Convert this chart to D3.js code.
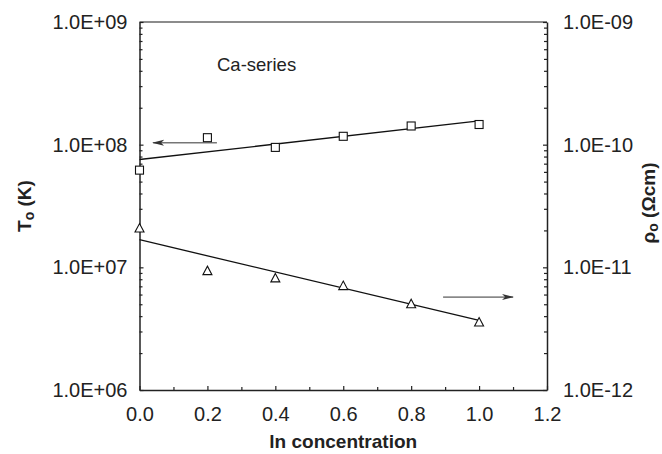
<!DOCTYPE html>
<html>
<head>
<meta charset="utf-8">
<script src="https://cdn.jsdelivr.net/npm/d3@7"></script>
<style>
  body { margin: 0; background: #fff; }
  text { font-family: "Liberation Sans", Arial, sans-serif; fill: #222; }
</style>
</head>
<body>
<svg width="662" height="454"></svg>
<script>
// data
var conc = [0.0, 0.2, 0.4, 0.6, 0.8, 1.0];
var T0 = [6.2e7, 1.14e8, 9.5e7, 1.17e8, 1.42e8, 1.46e8];
var rho0 = [2.09e-11, 9.4e-12, 8.2e-12, 7.1e-12, 5.05e-12, 3.58e-12];
var fitX = [0.0, 1.0];
var fitT = [7.57e7, 1.56e8];
var fitRho = [1.68e-11, 3.69e-12];
var xTicks = [0.0, 0.2, 0.4, 0.6, 0.8, 1.0, 1.2];
var leftTicks = [1e6, 1e7, 1e8, 1e9];
var rightTicks = [1e-12, 1e-11, 1e-10, 1e-9];

var svg = d3.select("svg");
var padL = 139.5, padR = 547, padT = 22, padB = 390;

var x = d3.scaleLinear().domain([0, 1.2]).range([padL, padR]);
var yL = d3.scaleLog().domain([1e6, 1e9]).range([padB, padT]);
var yR = d3.scaleLog().domain([1e-12, 1e-9]).range([padB, padT]);

function sci(v) {
  var e = Math.round(Math.log10(v));
  return "1.0E" + (e < 0 ? "-" : "+") + (Math.abs(e) < 10 ? "0" : "") + Math.abs(e);
}
function minors(lo, hi) {
  var out = [];
  for (var d = lo; d < hi * 0.99; d *= 10)
    for (var k = 2; k <= 9; k++) out.push(d * k);
  return out;
}

var defs = svg.append("defs");
defs.append("marker")
    .attr("id", "head")
    .attr("viewBox", "0 0 12 8")
    .attr("refX", 11).attr("refY", 4)
    .attr("markerWidth", 12).attr("markerHeight", 8)
    .attr("markerUnits", "userSpaceOnUse")
    .attr("orient", "auto")
  .append("path")
    .attr("d", "M0,1 L12,4 L0,7 L3,4 Z")
    .attr("fill", "#333");

// top frame line
svg.append("line")
    .attr("x1", padL).attr("x2", padR).attr("y1", padT).attr("y2", padT)
    .attr("stroke", "#666").attr("stroke-width", 1.5);

// x axis
svg.append("g").attr("transform", "translate(0," + padB + ")")
    .call(d3.axisBottom(x).tickValues(xTicks).tickFormat(d3.format(".1f"))
      .tickSizeInner(-4).tickSizeOuter(0).tickPadding(17));
svg.append("g").attr("transform", "translate(0," + padB + ")")
    .call(d3.axisBottom(x).tickValues([0.1, 0.3, 0.5, 0.7, 0.9, 1.1]).tickFormat("")
      .tickSizeInner(-3).tickSizeOuter(0))
    .select(".domain").remove();

// left axis
svg.append("g").attr("transform", "translate(" + padL + ",0)")
    .call(d3.axisLeft(yL).tickValues(leftTicks).tickFormat(sci)
      .tickSizeInner(-4).tickSizeOuter(0).tickPadding(12));
svg.append("g").attr("transform", "translate(" + padL + ",0)")
    .call(d3.axisLeft(yL).tickValues(minors(1e6, 1e9)).tickFormat("")
      .tickSizeInner(-3).tickSizeOuter(0))
    .select(".domain").remove();

// right axis
svg.append("g").attr("transform", "translate(" + padR + ",0)")
    .call(d3.axisRight(yR).tickValues(rightTicks).tickFormat(sci)
      .tickSizeInner(-4).tickSizeOuter(0).tickPadding(16));
svg.append("g").attr("transform", "translate(" + padR + ",0)")
    .call(d3.axisRight(yR).tickValues(minors(1e-12, 1e-9)).tickFormat("")
      .tickSizeInner(-3).tickSizeOuter(0))
    .select(".domain").remove();

svg.selectAll(".domain").attr("stroke", "#222").attr("stroke-width", 1.5);
svg.selectAll(".tick line").attr("stroke", "#222").attr("stroke-width", 1.2);
svg.selectAll(".tick text").attr("font-size", 20).attr("fill", "#222")
    .attr("font-family", "Liberation Sans, Arial, sans-serif");

// fit lines
var lineT = d3.line().x(function(d, i) { return x(fitX[i]); }).y(function(d) { return yL(d); });
var lineR = d3.line().x(function(d, i) { return x(fitX[i]); }).y(function(d) { return yR(d); });
svg.append("path").attr("d", lineT(fitT)).attr("fill", "none").attr("stroke", "#111").attr("stroke-width", 1.3);
svg.append("path").attr("d", lineR(fitRho)).attr("fill", "none").attr("stroke", "#111").attr("stroke-width", 1.3);

// markers
svg.append("g").selectAll("rect").data(T0).enter().append("rect")
    .attr("x", function(d, i) { return x(conc[i]) - 4; })
    .attr("y", function(d) { return yL(d) - 4; })
    .attr("width", 8).attr("height", 8)
    .attr("fill", "#fff").attr("stroke", "#111").attr("stroke-width", 1.1);

svg.append("g").selectAll("path").data(rho0).enter().append("path")
    .attr("transform", function(d, i) { return "translate(" + x(conc[i]) + "," + yR(d) + ")"; })
    .attr("d", "M0,-4.5 L4.5,4 L-4.5,4 Z")
    .attr("fill", "#fff").attr("stroke", "#111").attr("stroke-width", 1.1);

// arrows pointing at the axes
svg.append("line")
    .attr("x1", x(0.228)).attr("x2", x(0.04)).attr("y1", yL(1.035e8)).attr("y2", yL(1.035e8))
    .attr("stroke", "#333").attr("stroke-width", 1).attr("marker-end", "url(#head)");
svg.append("line")
    .attr("x1", x(0.894)).attr("x2", x(1.1)).attr("y1", yR(5.72e-12)).attr("y2", yR(5.72e-12))
    .attr("stroke", "#333").attr("stroke-width", 1).attr("marker-end", "url(#head)");

// labels
svg.append("text").attr("x", 217).attr("y", 71).attr("font-size", 18.5).text("Ca-series");

svg.append("text").attr("x", (padL + padR) / 2).attr("y", 448)
    .attr("text-anchor", "middle").attr("font-size", 19).attr("font-weight", "bold")
    .text("ln concentration");

var tl = svg.append("text").attr("transform", "translate(31,206) rotate(-90)")
    .attr("text-anchor", "middle").attr("font-size", 19).attr("font-weight", "bold");
tl.append("tspan").text("T");
tl.append("tspan").attr("font-size", 14).attr("dy", 3).text("o");
tl.append("tspan").attr("dy", -3).text(" (K)");

var tr = svg.append("text").attr("transform", "translate(655,203) rotate(-90)")
    .attr("text-anchor", "middle").attr("font-size", 19).attr("font-weight", "bold");
tr.append("tspan").text("ρ");
tr.append("tspan").attr("font-size", 14).attr("dy", 3).text("o");
tr.append("tspan").attr("dy", -3).text(" (Ωcm)");
</script>
</body>
</html>
